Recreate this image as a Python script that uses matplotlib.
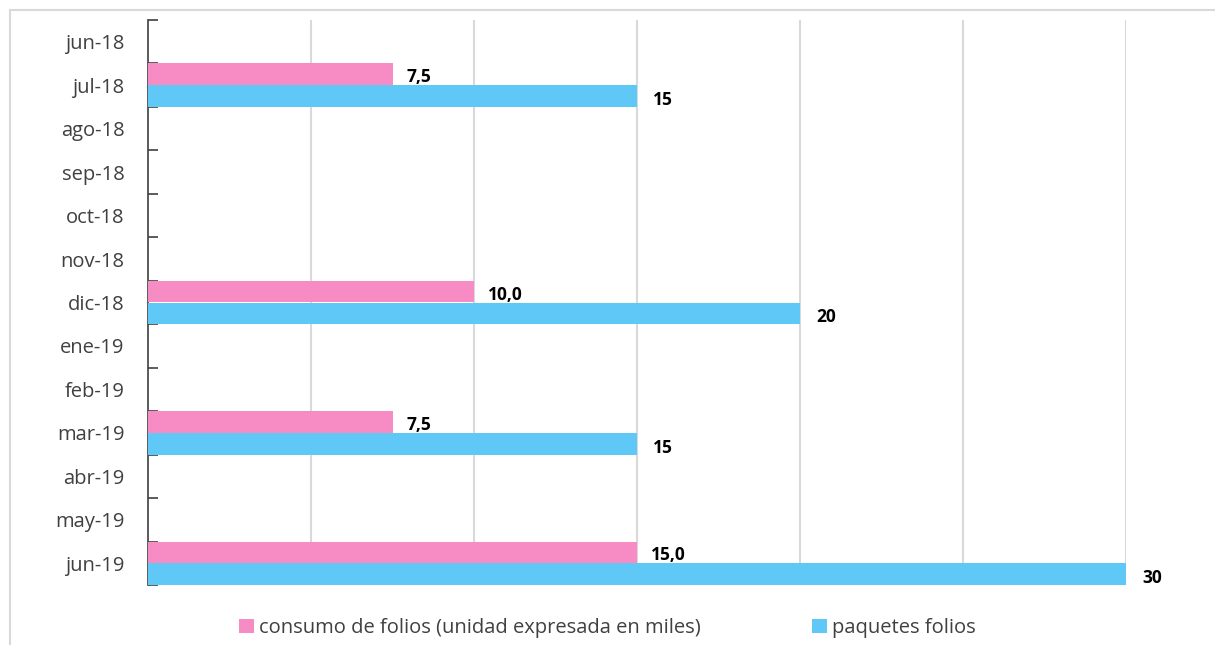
import matplotlib
matplotlib.use("Agg")
import matplotlib.pyplot as plt
from matplotlib.patches import Rectangle
import numpy as np

months = ["jun-18", "jul-18", "ago-18", "sep-18", "oct-18", "nov-18", "dic-18",
          "ene-19", "feb-19", "mar-19", "abr-19", "may-19", "jun-19"]
consumo = [np.nan, 7.5, np.nan, np.nan, np.nan, np.nan, 10.0,
           np.nan, np.nan, 7.5, np.nan, np.nan, 15.0]
paquetes = [np.nan, 15, np.nan, np.nan, np.nan, np.nan, 20,
            np.nan, np.nan, 15, np.nan, np.nan, 30]
series_names = ["consumo de folios (unidad expresada en miles)", "paquetes folios"]

pink = "#f78bc3"
blue = "#5fc8f7"
txt = "#404040"

plt.rcParams['font.family'] = ['Open Sans', 'DejaVu Sans']

W, H = 1215, 645
fig = plt.figure(figsize=(W / 100, H / 100), dpi=100)
ax = fig.add_axes([148 / W, 1 - 585 / H, (1126 - 148) / W, (585 - 20) / H])

# chart frame
fig.patches.append(Rectangle((10 / W, -0.1), 1.2, 1 - 9.5 / H + 0.1,
                             transform=fig.transFigure, fill=False,
                             edgecolor="#d9d9d9", linewidth=1.5))

y = np.arange(len(months))
b1 = ax.barh(y - 0.25, consumo, height=0.5, color=pink, label=series_names[0], zorder=3)
b2 = ax.barh(y + 0.25, paquetes, height=0.5, color=blue, label=series_names[1], zorder=3)

for yi, v in zip(y, consumo):
    if not np.isnan(v):
        ax.annotate(f"{v:.1f}".replace(".", ","), (v, yi - 0.25), xytext=(14, -3),
                    textcoords="offset pixels", ha="left", va="center",
                    fontsize=12.5, fontweight="bold", color="black", annotation_clip=False)
for yi, v in zip(y, paquetes):
    if not np.isnan(v):
        ax.annotate(f"{v:.0f}", (v, yi + 0.25), xytext=(16, -4),
                    textcoords="offset pixels", ha="left", va="center",
                    fontsize=12.5, fontweight="bold", color="black", annotation_clip=False)

ax.set_xlim(0, 30)
ax.set_ylim(len(months) - 0.5, -0.5)
ax.set_xticks(np.arange(5, 31, 5))
ax.set_xticklabels([])
ax.tick_params(axis="x", length=0)
ax.grid(axis="x", color="#d9d9d9", linewidth=1.5, zorder=0)

ax.set_yticks(y)
ax.set_yticklabels(months, fontsize=14.5, color=txt)
ax.tick_params(axis="y", which="major", length=0, pad=17)
ax.set_yticks(np.arange(-0.5, len(months)), minor=True)
ax.tick_params(axis="y", which="minor", direction="in", length=7, width=1.2, color=txt)

for s in ["top", "right", "bottom"]:
    ax.spines[s].set_visible(False)
ax.spines["left"].set_color(txt)
ax.spines["left"].set_linewidth(1.2)

fig.legend(handles=[b1, b2], loc="center", bbox_to_anchor=(0.5, 1 - 628 / H),
           ncol=2, frameon=False, fontsize=14.5, handlelength=0.75, handleheight=0.75,
           handletextpad=0.25, columnspacing=5.5, labelcolor=txt)

fig.savefig("out.png", dpi=100)
